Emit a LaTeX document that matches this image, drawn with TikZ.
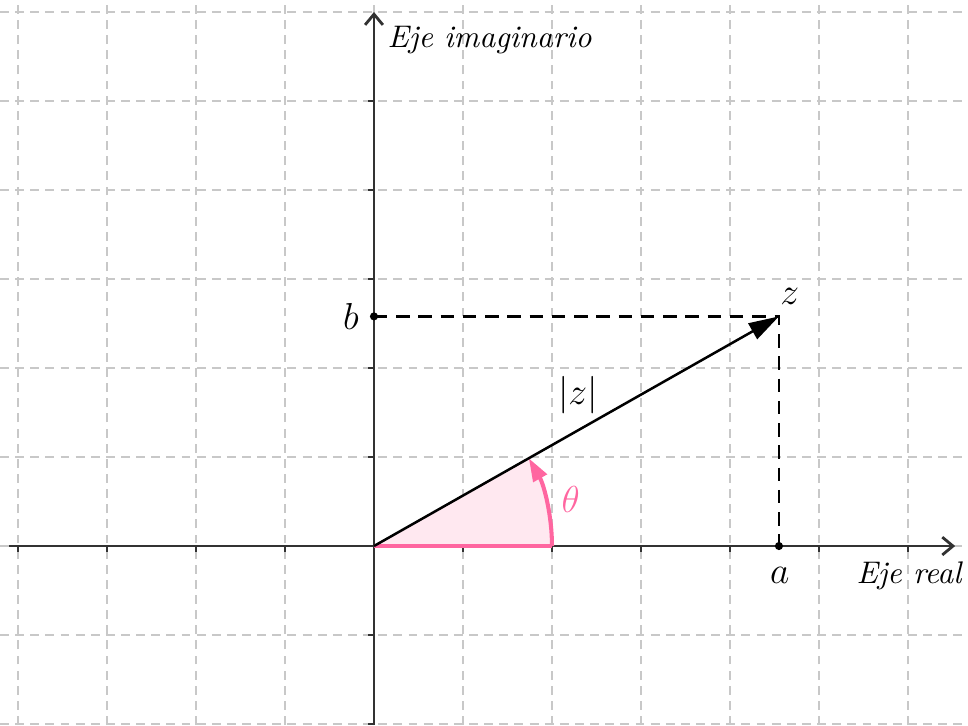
\documentclass[tikz,border=0pt]{standalone}
\usetikzlibrary{arrows.meta}
\definecolor{gridgray}{RGB}{200,200,200}
\definecolor{axisgray}{RGB}{50,50,50}
\definecolor{anglepink}{RGB}{255,102,160}
\definecolor{anglefill}{RGB}{255,232,240}
\newcommand{\xmark}[1]{\draw[axisgray,line width=0.9pt] (#1,0) -- (#1,-0.07);}
\newcommand{\ymark}[1]{\draw[axisgray,line width=0.9pt] (0,#1) -- (-0.07,#1);}

\begin{document}
\begin{tikzpicture}[x=1cm,y=1cm,every node/.style={font=\large}]
  \useasboundingbox (-4.202,-2.011) rectangle (6.674,6.135);
  \foreach \x in {-4,...,6} {
    \draw[gridgray,line width=0.8pt,dash pattern=on 0.1cm off 0.07cm] (\x,-2.011) -- (\x,6.135);
  }
  \foreach \y in {-2,...,6} {
    \draw[gridgray,line width=0.8pt,dash pattern=on 0.1cm off 0.07cm] (-4.202,\y) -- (6.674,\y);
  }
  \coordinate (O) at (0,0);
  \coordinate (Z) at (4.55,2.58);
  \coordinate (A) at (4.55,0);
  \coordinate (B) at (0,2.58);
  \fill[anglefill] (O) -- (2,0) arc[start angle=0,end angle=29.56,radius=2] -- cycle;
  \draw[axisgray,line width=0.9pt,-{Straight Barb[length=0.12cm,width=0.2cm]}] (-4.1,0) -- (6.53,0);
  \draw[axisgray,line width=0.9pt,-{Straight Barb[length=0.12cm,width=0.2cm]}] (0,-2.011) -- (0,6.0);
  \foreach \x in {-4,-3,-2,-1,1,2,3,4,5,6} {\xmark{\x}}
  \foreach \y in {-2,-1,1,2,3,4,5} {\ymark{\y}}
  \draw[dash pattern=on 0.15cm off 0.1cm,line width=0.8pt] (B) -- (Z) -- (A);
  \fill (A) circle (1.3pt);
  \fill (B) circle (1.3pt);
  \draw[anglepink,line width=1.3pt] (O) -- (2,0);
  \draw[anglepink,line width=1.3pt,-{Triangle[length=0.26cm,width=0.17cm]}]
    (2,0) arc[start angle=0,end angle=29.56,radius=2];
  \draw[line width=0.8pt,-{Triangle[length=0.34cm,width=0.2cm]}] (O) -- (Z);
  \node (imag) [anchor=west,font=\normalsize] at (0.03,5.68) {\textit{Eje imaginario}};
  \node (real) [anchor=east,font=\normalsize,inner sep=1pt] at (6.66,-0.33) {\textit{Eje real}};
  \node (blbl) at (-0.26,2.58) {$b$};
  \node (albl) at (4.56,-0.33) {$a$};
  \node (zlbl) at (4.67,2.8) {$z$};
  \node (modz) at (2.29,1.69) {$|z|$};
  \node (theta) [text=anglepink] at (2.21,0.52) {$\theta$};
\end{tikzpicture}
\end{document}
